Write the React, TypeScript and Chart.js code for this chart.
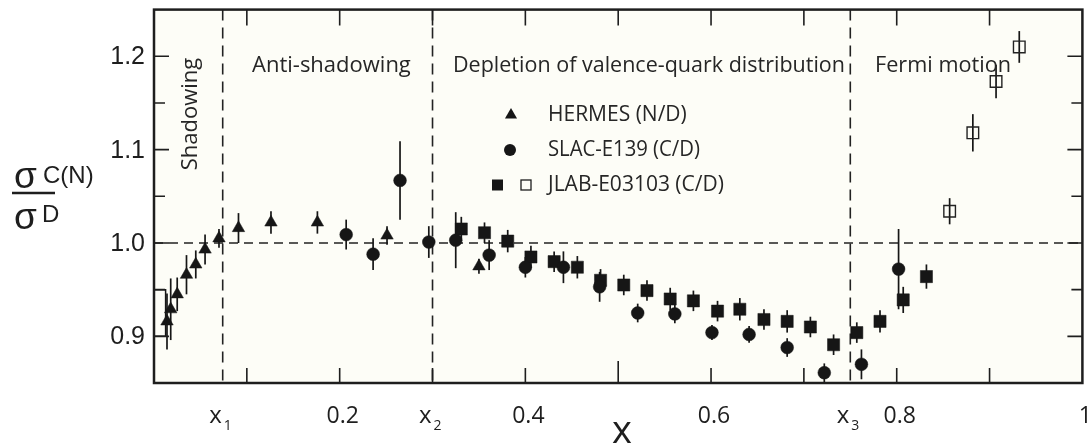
import React, { useEffect, useRef } from 'react';
import { Chart, registerables } from 'chart.js';

Chart.register(...registerables);

// ---------- data ----------
const hermesX = [0.014, 0.018, 0.025, 0.035, 0.045, 0.055, 0.070, 0.091, 0.126, 0.176, 0.251, 0.350];
const hermesY = [0.916, 0.929, 0.945, 0.966, 0.977, 0.993, 1.005, 1.016, 1.022, 1.022, 1.008, 0.975];
const hermesErr = [0.030, 0.033, 0.018, 0.021, 0.015, 0.016, 0.010, 0.016, 0.012, 0.012, 0.010, 0.008];

const slacX = [0.207, 0.236, 0.265, 0.296, 0.325, 0.361, 0.400, 0.441, 0.480, 0.521, 0.561, 0.601, 0.641, 0.682, 0.722, 0.762, 0.802];
const slacY = [1.009, 0.988, 1.067, 1.001, 1.003, 0.987, 0.974, 0.974, 0.953, 0.925, 0.924, 0.904, 0.902, 0.888, 0.861, 0.870, 0.972];
const slacErr = [0.016, 0.017, 0.042, 0.017, 0.030, 0.016, 0.011, 0.017, 0.016, 0.010, 0.010, 0.008, 0.009, 0.010, 0.010, 0.016, 0.043];

const jlabX = [0.331, 0.356, 0.381, 0.406, 0.431, 0.456, 0.481, 0.506, 0.531, 0.556, 0.581, 0.607, 0.631, 0.657, 0.682, 0.707, 0.732, 0.757, 0.782, 0.807, 0.832];
const jlabY = [1.015, 1.011, 1.002, 0.985, 0.980, 0.974, 0.960, 0.955, 0.949, 0.940, 0.938, 0.927, 0.929, 0.918, 0.916, 0.910, 0.891, 0.904, 0.916, 0.939, 0.964];
const jlabErr = [0.013, 0.011, 0.012, 0.012, 0.011, 0.012, 0.012, 0.011, 0.011, 0.012, 0.011, 0.011, 0.012, 0.011, 0.012, 0.011, 0.011, 0.011, 0.012, 0.014, 0.013];

const jlabOpenX = [0.857, 0.882, 0.907, 0.932];
const jlabOpenY = [1.034, 1.118, 1.173, 1.210];
const jlabOpenErr = [0.014, 0.020, 0.018, 0.017];

// systematic-error bracket at low x
const sysX = [0.001, 0.0125, 0.0125, 0.001];
const sysY = [0.950, 0.950, 0.900, 0.900];

const xMin = 0, xMax = 1, yMin = 0.85, yMax = 1.25;
const xTickValues = [0.2, 0.4, 0.6, 0.8, 1];
const xTickLabels = ['0.2', '0.4', '0.6', '0.8', '1'];
const xMinorTicks = [0.1, 0.2, 0.3, 0.4, 0.5, 0.6, 0.7, 0.8, 0.9];
const boundaryX = [0.074, 0.3, 0.75];
const boundarySubs = ['1', '2', '3'];
const yTickValues = [0.9, 1.0, 1.1, 1.2];
const yTickLabels = ['0.9', '1.0', '1.1', '1.2'];
const yMinorTicks = [0.95, 1.05, 1.15];
const unityLine = 1.0;
const regionLabels = ['Shadowing', 'Anti-shadowing', 'Depletion of valence-quark distribution', 'Fermi motion'];
const legendLabels = ['HERMES (N/D)', 'SLAC-E139 (C/D)', 'JLAB-E03103 (C/D)'];

const INK = '#161616';
const SANS = '"Open Sans", "Noto Sans", sans-serif';
const ARIAL = '"Liberation Sans", Arial, sans-serif';

const pts = (xs: number[], ys: number[]) => xs.map((x, i) => ({ x, y: ys[i] }));

function drawTri(ctx: CanvasRenderingContext2D, x: number, y: number, r: number) {
  ctx.beginPath();
  for (let k = 0; k < 3; k++) {
    const a = (k * 2 * Math.PI) / 3;
    const px = x + Math.sin(a) * r, py = y - Math.cos(a) * r;
    if (k === 0) ctx.moveTo(px, py); else ctx.lineTo(px, py);
  }
  ctx.closePath();
  ctx.fill();
}

const bgPlugin = {
  id: 'bg',
  beforeDraw(chart: any) {
    const { ctx, chartArea: a } = chart;
    ctx.save();
    ctx.fillStyle = '#ffffff';
    ctx.fillRect(0, 0, chart.width, chart.height);
    ctx.fillStyle = '#fdfdf7';
    ctx.fillRect(a.left, a.top, a.right - a.left, a.bottom - a.top);
    ctx.restore();
  },
};

const underlayPlugin = {
  id: 'underlay',
  beforeDatasetsDraw(chart: any) {
    const { ctx, chartArea: a, scales } = chart;
    const xs = scales.x, ys = scales.y;
    ctx.save();
    ctx.strokeStyle = '#222';
    ctx.lineWidth = 1.6;
    ctx.setLineDash([9, 6]);
    const y1 = ys.getPixelForValue(unityLine);
    ctx.beginPath();
    ctx.moveTo(a.left, y1);
    ctx.lineTo(a.right, y1);
    ctx.stroke();
    ctx.setLineDash([11, 7]);
    boundaryX.forEach((bx) => {
      const px = xs.getPixelForValue(bx);
      ctx.beginPath();
      ctx.moveTo(px, a.top);
      ctx.lineTo(px, a.bottom);
      ctx.stroke();
    });
    ctx.setLineDash([]);
    ctx.strokeStyle = INK;
    ctx.lineWidth = 1.7;
    chart.data.datasets.forEach((ds: any) => {
      if (!ds.errors) return;
      ds.data.forEach((p: any, i: number) => {
        const px = xs.getPixelForValue(p.x);
        ctx.beginPath();
        ctx.moveTo(px, ys.getPixelForValue(p.y - ds.errors[i]));
        ctx.lineTo(px, ys.getPixelForValue(p.y + ds.errors[i]));
        ctx.stroke();
      });
    });
    ctx.restore();
  },
};

const overlayPlugin = {
  id: 'overlay',
  afterDraw(chart: any) {
    const { ctx, chartArea: a, scales } = chart;
    const xs = scales.x, ys = scales.y;
    ctx.save();
    ctx.strokeStyle = '#1e1e1e';
    ctx.lineWidth = 2.5;
    ctx.strokeRect(a.left, a.top, a.right - a.left, a.bottom - a.top);
    ctx.lineWidth = 1.6;
    ctx.beginPath();
    xMinorTicks.forEach((v) => {
      const px = xs.getPixelForValue(v);
      const len = Math.abs(v - 0.5) < 1e-6 ? 22 : 15;
      ctx.moveTo(px, a.bottom);
      ctx.lineTo(px, a.bottom - len);
      ctx.moveTo(px, a.top);
      ctx.lineTo(px, a.top + 16);
    });
    yTickValues.forEach((v) => {
      const py = ys.getPixelForValue(v);
      ctx.moveTo(a.left, py); ctx.lineTo(a.left + 15, py);
      ctx.moveTo(a.right, py); ctx.lineTo(a.right - 15, py);
    });
    yMinorTicks.forEach((v) => {
      const py = ys.getPixelForValue(v);
      ctx.moveTo(a.left, py); ctx.lineTo(a.left + 11, py);
      ctx.moveTo(a.right, py); ctx.lineTo(a.right - 11, py);
    });
    ctx.stroke();

    ctx.fillStyle = '#1e1e1e';
    ctx.font = `25px ${ARIAL}`;
    ctx.textAlign = 'right';
    ctx.textBaseline = 'middle';
    yTickValues.forEach((v, i) => {
      ctx.fillText(yTickLabels[i], a.left - 9, ys.getPixelForValue(v) + 1);
    });
    ctx.font = `23px ${SANS}`;
    ctx.textAlign = 'center';
    ctx.textBaseline = 'alphabetic';
    xTickValues.forEach((v, i) => {
      let px = xs.getPixelForValue(v) + 3;
      if (i === xTickValues.length - 1) px = Math.min(px, chart.width - 6);
      ctx.fillText(xTickLabels[i], px, a.bottom + 40);
    });
    boundaryX.forEach((bx, i) => {
      const px = xs.getPixelForValue(bx);
      ctx.font = `24px ${SANS}`;
      ctx.textAlign = 'right';
      ctx.fillText('x', px - 1, a.bottom + 40);
      ctx.font = `14px ${SANS}`;
      ctx.textAlign = 'left';
      ctx.fillText(boundarySubs[i], px + 1, a.bottom + 47);
    });
    ctx.font = `38px ${SANS}`;
    ctx.textAlign = 'center';
    ctx.fillText('x', 622, chart.height - 2);

    // y axis title: sigma^C(N) / sigma^D
    ctx.textAlign = 'left';
    ctx.font = `37px ${ARIAL}`;
    ctx.fillText('σ', 14, 188);
    ctx.fillText('σ', 14, 229);
    ctx.font = `24px ${ARIAL}`;
    ctx.fillText('C(N)', 43, 183);
    ctx.fillText('D', 42, 222);
    ctx.lineWidth = 2.5;
    ctx.beginPath();
    ctx.moveTo(12, 193);
    ctx.lineTo(55, 193);
    ctx.stroke();

    ctx.font = `22px ${SANS}`;
    ctx.fillStyle = '#262626';
    ctx.textAlign = 'left';
    ctx.fillText(regionLabels[1], 252, 72, 164);
    ctx.fillText(regionLabels[2], 453, 72, 392);
    ctx.fillText(regionLabels[3], 875, 72, 136);
    ctx.save();
    ctx.translate(191, 114);
    ctx.rotate(-Math.PI / 2);
    ctx.textAlign = 'center';
    ctx.textBaseline = 'middle';
    ctx.fillText(regionLabels[0], 0, 0, 114);
    ctx.restore();

    ctx.font = `21px ${SANS}`;
    ctx.textBaseline = 'middle';
    ctx.textAlign = 'left';
    const ly = [115, 150, 185];
    ctx.fillText(legendLabels[0], 548, ly[0], 146);
    ctx.fillText(legendLabels[1], 548, ly[1], 152);
    ctx.fillText(legendLabels[2], 548, ly[2], 196);
    ctx.fillStyle = INK;
    drawTri(ctx, 511, ly[0], 7);
    ctx.beginPath();
    ctx.arc(510, ly[1], 6, 0, Math.PI * 2);
    ctx.fill();
    ctx.fillRect(492, ly[2] - 5.5, 11, 11);
    ctx.lineWidth = 1.3;
    ctx.strokeRect(521, ly[2] - 5, 10, 10);
    ctx.restore();
  },
};

export default function App() {
  const ref = useRef<HTMLCanvasElement | null>(null);
  useEffect(() => {
    if (!ref.current) return;
    const chart = new Chart(ref.current, {
      type: 'scatter',
      data: {
        datasets: [
          {
            label: 'sys',
            data: pts(sysX, sysY),
            showLine: true,
            borderColor: INK,
            borderWidth: 1.5,
            pointRadius: 0,
            fill: false,
          } as any,
          {
            label: legendLabels[0],
            data: pts(hermesX, hermesY),
            errors: hermesErr,
            pointStyle: 'triangle',
            pointRadius: 7.2,
            backgroundColor: INK,
            borderColor: INK,
            borderWidth: 0.5,
          } as any,
          {
            label: legendLabels[1],
            data: pts(slacX, slacY),
            errors: slacErr,
            pointStyle: 'circle',
            pointRadius: 6.4,
            backgroundColor: INK,
            borderColor: INK,
            borderWidth: 0.5,
          } as any,
          {
            label: legendLabels[2],
            data: pts(jlabX, jlabY),
            errors: jlabErr,
            pointStyle: 'rect',
            pointRadius: 8.6,
            backgroundColor: INK,
            borderColor: INK,
            borderWidth: 0.5,
          } as any,
          {
            label: legendLabels[2] + ' open',
            data: pts(jlabOpenX, jlabOpenY),
            errors: jlabOpenErr,
            pointStyle: 'rect',
            pointRadius: 8.2,
            backgroundColor: 'rgba(0,0,0,0)',
            borderColor: '#222',
            borderWidth: 1.4,
          } as any,
        ],
      },
      options: {
        animation: false,
        responsive: false,
        maintainAspectRatio: false,
        devicePixelRatio: 1,
        layout: { padding: { left: 154, right: 6, top: 8, bottom: 62 } },
        plugins: { legend: { display: false }, tooltip: { enabled: false } },
        events: [],
        scales: {
          x: { type: 'linear', min: xMin, max: xMax, display: false },
          y: { type: 'linear', min: yMin, max: yMax, display: false },
        },
      },
      plugins: [bgPlugin, underlayPlugin, overlayPlugin],
    });
    const fonts = (document as any).fonts;
    if (fonts && fonts.load) {
      Promise.all([
        fonts.load('22px "Open Sans"'),
        fonts.load('25px "Liberation Sans"'),
      ]).then(() => chart.draw()).catch(() => {});
    }
    return () => chart.destroy();
  }, []);
  return (
    <div style={{ position: 'fixed', left: 0, top: 0, width: 1092, height: 445, background: '#fff' }}>
      <canvas ref={ref} width={1092} height={445} style={{ display: 'block', width: 1092, height: 445 }} />
    </div>
  );
}
